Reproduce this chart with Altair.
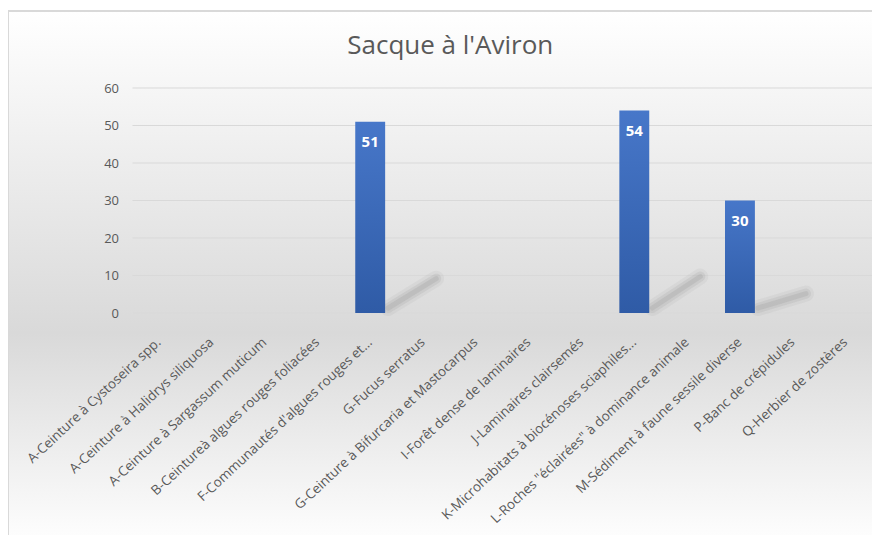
import altair as alt
import pandas as pd

categories = [
    "A-Ceinture à Cystoseira spp.",
    "A-Ceinture à Halidrys siliquosa",
    "A-Ceinture à Sargassum muticum",
    "B-Ceintureà algues rouges foliacées",
    "F-Communautés d'algues rouges et...",
    "G-Fucus serratus",
    "G-Ceinture à Bifurcaria et Mastocarpus",
    "I-Forêt dense de laminaires",
    "J-Laminaires clairsemés",
    "K-Microhabitats à biocénoses sciaphiles...",
    "L-Roches \"éclairées\" à dominance  animale",
    "M-Sédiment à faune sessile diverse",
    "P-Banc de crépidules",
    "Q-Herbier de zostères",
]
values = [0, 0, 0, 0, 51, 0, 0, 0, 0, 54, 0, 30, 0, 0]
y_ticks = [0, 10, 20, 30, 40, 50, 60]
title_text = "Sacque à l'Aviron"

df = pd.DataFrame({"cat": categories, "val": values})
df_pos = df[df["val"] > 0]
grid_df = pd.DataFrame({"g": y_ticks})

FONT = "Open Sans"
GREY = "#595959"
W, H = 739.5, 225

bg_gradient = alt.Gradient(
    gradient="linear",
    stops=[
        alt.GradientStop(offset=0, color="#ffffff"),
        alt.GradientStop(offset=0.6, color="#d9d9d9"),
        alt.GradientStop(offset=1, color="#ffffff"),
    ],
    x1=0, x2=0, y1=0, y2=1,
)
bar_gradient = alt.Gradient(
    gradient="linear",
    stops=[
        alt.GradientStop(offset=0, color="#4777c9"),
        alt.GradientStop(offset=1, color="#2f5ba6"),
    ],
    x1=0, x2=0, y1=0, y2=1,
)

yscale = alt.Scale(domain=[0, 60], nice=False, zero=True)
xscale = alt.Scale(domain=categories, paddingInner=0.434, paddingOuter=0.217)

yaxis = alt.Axis(
    values=y_ticks, tickCount=7, grid=False, ticks=False, domain=False,
    labelFont=FONT, labelFontSize=13, labelColor=GREY,
    labelPadding=14, zindex=1, labelOverlap=False,
)

background = alt.Chart(alt.Data(values=[{}])).mark_rect(
    fill=bg_gradient, stroke="#d9d9d9", strokeWidth=2
).encode(
    x=alt.value(-124.5), x2=alt.value(760),
    y=alt.value(-77), y2=alt.value(460),
)

grid = alt.Chart(grid_df).mark_rule(color="#d9d9d9", strokeWidth=1).encode(
    y=alt.Y("g:Q", scale=yscale, axis=yaxis, title=None)
)


def shadow(width, opacity):
    return alt.Chart(df_pos).transform_calculate(
        sh="datum.val * 0.19", z="0"
    ).mark_rule(
        color="#7a7a7a", opacity=opacity, strokeWidth=width, strokeCap="round",
        xOffset=18, yOffset=-5, x2Offset=66, y2Offset=2,
    ).encode(
        x=alt.X("cat:N", sort=categories, scale=xscale),
        x2=alt.X2("cat"),
        y=alt.Y("z:Q", scale=yscale),
        y2=alt.Y2("sh"),
    )


shadow_outer = shadow(16, 0.08)
shadow_mid = shadow(10, 0.12)
shadow_inner = shadow(5, 0.15)

bars = alt.Chart(df).mark_bar(fill=bar_gradient).encode(
    x=alt.X(
        "cat:N", sort=categories, scale=xscale, title=None,
        axis=alt.Axis(
            labelAngle=-43, labelAlign="right", labelBaseline="middle",
            labelPadding=27, ticks=False, domain=False, grid=False,
            labelFont=FONT, labelFontSize=13.5, labelColor=GREY,
            labelLimit=400, zindex=1, labelOverlap=False,
        ),
    ),
    y=alt.Y("val:Q", scale=yscale, title=None, axis=yaxis),
)

texts = alt.Chart(df_pos).mark_text(
    color="white", fontWeight="bold", font=FONT, fontSize=15,
    baseline="middle", dy=20,
).encode(
    x=alt.X("cat:N", sort=categories, scale=xscale),
    y=alt.Y("val:Q", scale=yscale),
    text=alt.Text("val:Q"),
)

chart = alt.layer(
    background, grid, shadow_outer, shadow_mid, shadow_inner, bars, texts
).properties(
    width=W, height=H,
    title=alt.Title(
        title_text, font=FONT, fontSize=26, fontWeight="normal", color=GREY,
        anchor="middle", frame="group", dx=-52, baseline="alphabetic", offset=-70,
    ),
    autosize=alt.AutoSizeParams(type="none"),
    padding={"left": 124.5, "top": 80, "right": 0, "bottom": 222},
).configure_view(stroke=None)

chart.save("out.html", embed_options={"renderer": "svg", "actions": False})
